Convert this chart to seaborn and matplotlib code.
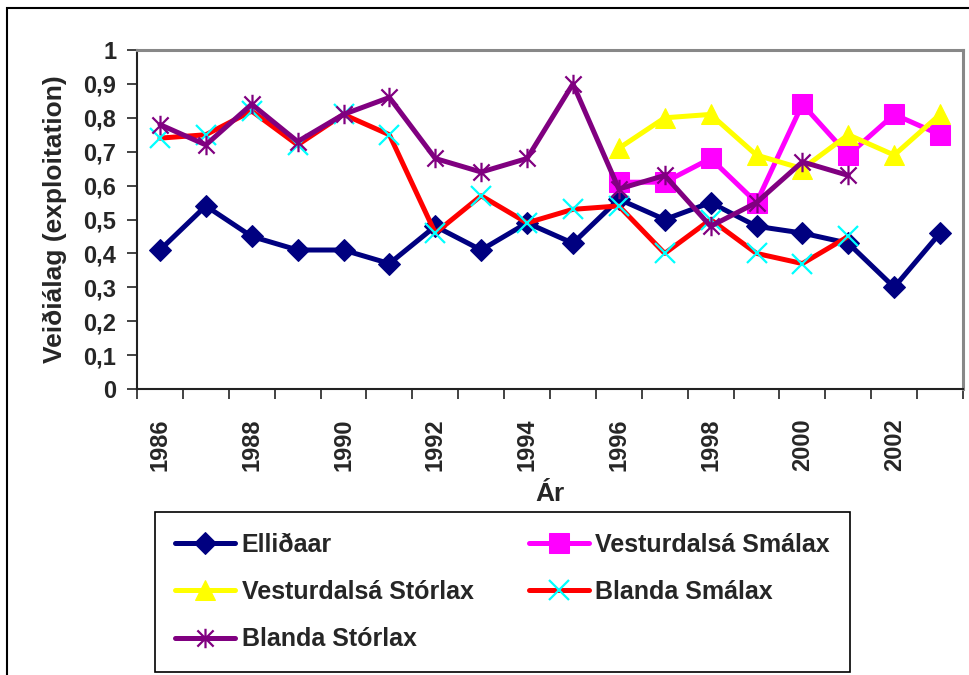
import matplotlib
matplotlib.use("Agg")
import matplotlib.pyplot as plt
from matplotlib.path import Path
from matplotlib.patches import Rectangle
from matplotlib.ticker import MultipleLocator, FixedLocator, FuncFormatter
import seaborn as sns
import pandas as pd

# Datos
ar_allt = list(range(1986, 2004))
ar_vest = list(range(1996, 2004))
ar_blanda = list(range(1986, 2002))

ellidaar = [0.41, 0.54, 0.45, 0.41, 0.41, 0.37, 0.48, 0.41, 0.49, 0.43,
            0.56, 0.50, 0.55, 0.48, 0.46, 0.43, 0.30, 0.46]
vest_smalax = [0.61, 0.61, 0.68, 0.55, 0.84, 0.69, 0.81, 0.75]
vest_storlax = [0.71, 0.80, 0.81, 0.69, 0.65, 0.75, 0.69, 0.81]
blanda_smalax = [0.74, 0.75, 0.82, 0.72, 0.81, 0.75, 0.46, 0.57, 0.49, 0.53,
                 0.54, 0.40, 0.50, 0.40, 0.37, 0.45]
blanda_storlax = [0.78, 0.72, 0.84, 0.73, 0.81, 0.86, 0.68, 0.64, 0.68, 0.90,
                  0.59, 0.63, 0.48, 0.55, 0.67, 0.63]

ytick_vals = [0, 0.1, 0.2, 0.3, 0.4, 0.5, 0.6, 0.7, 0.8, 0.9, 1.0]
xtick_ar = list(range(1986, 2003, 2))

# Stjörnumerki eins og í Excel: x + lóðrétt strik
stjarna = Path([(-1, -1), (1, 1), (-1, 1), (1, -1), (0, -1.2), (0, 1.2)],
               [Path.MOVETO, Path.LINETO, Path.MOVETO, Path.LINETO, Path.MOVETO, Path.LINETO])

rodin = [
    ("Elliðaar", ar_allt, ellidaar, dict(color="#000080", marker="D", markersize=11,
                                         markerfacecolor="#000080", markeredgecolor="#000080")),
    ("Vesturdalsá Stórlax", ar_vest, vest_storlax, dict(color="#FFFF00", marker="^", markersize=15,
                                                        markerfacecolor="#FFFF00", markeredgecolor="#FFFF00")),
    ("Blanda Stórlax", ar_blanda, blanda_storlax, dict(color="#800080", marker=stjarna, markersize=14,
                                                        markerfacecolor="none", markeredgecolor="#800080",
                                                        markeredgewidth=1.6)),
    ("Vesturdalsá Smálax", ar_vest, vest_smalax, dict(color="#FF00FF", marker="s", markersize=14,
                                                       markerfacecolor="#FF00FF", markeredgecolor="#FF00FF")),
    ("Blanda Smálax", ar_blanda, blanda_smalax, dict(color="#FF0000", marker="x", markersize=15,
                                                     markeredgecolor="#00FFFF", markeredgewidth=1.6)),
]

sns.set_style("ticks")
plt.rcParams["font.family"] = ["Liberation Sans", "DejaVu Sans"]
plt.rcParams["font.weight"] = "bold"

fig = plt.figure(figsize=(9.7, 6.75), dpi=100)
ax = fig.add_axes([137 / 970, 1 - 389 / 675, 826 / 970, 339 / 675])

# teikna í röð sem í Excel (Blanda Stórlax ofan á)
teikniröð = [0, 3, 1, 4, 2]
for i in teikniröð:
    nafn, x, y, stil = rodin[i]
    df = pd.DataFrame({"ar": x, "gildi": y})
    sns.lineplot(data=df, x="ar", y="gildi", ax=ax, label=nafn, linewidth=3.6,
                 estimator=None, sort=False, **stil)

ax.set_xlim(1985.5, 2003.5)
ax.set_ylim(0, 1)
ax.yaxis.set_major_locator(FixedLocator(ytick_vals))
ax.yaxis.set_major_formatter(FuncFormatter(lambda v, p: "0" if v == 0 else ("1" if v == 1 else f"{v:.1f}".replace(".", ","))))
ax.xaxis.set_major_locator(FixedLocator(xtick_ar))
ax.xaxis.set_major_formatter(FuncFormatter(lambda v, p: f"{int(round(v))}"))
ax.xaxis.set_minor_locator(MultipleLocator(1, offset=0.5))

ax.tick_params(axis="x", which="major", length=0, pad=21, labelsize=17, rotation=90)
ax.tick_params(axis="x", which="minor", length=7, width=1.2, color="#222222", direction="out")
ax.tick_params(axis="y", which="major", length=7, width=1.2, color="#222222", direction="out",
               labelsize=17, pad=8)
for lab in ax.get_xticklabels() + ax.get_yticklabels():
    lab.set_fontweight("bold")

for s in ["left", "bottom"]:
    ax.spines[s].set_color("#222222")
    ax.spines[s].set_linewidth(1.5)
for s in ["top", "right"]:
    ax.spines[s].set_color("#888888")
    ax.spines[s].set_linewidth(2.2)

ax.set_ylabel("Veiðiálag (exploitation)", fontsize=19, fontweight="bold")
ax.set_xlabel("Ár", fontsize=19, fontweight="bold")
ax.yaxis.set_label_coords(-0.099, 0.5)
ax.xaxis.set_label_coords(0.5, -0.31)
ax.xaxis.label.set_va("center")
ax.yaxis.label.set_va("center")

handles, labels = ax.get_legend_handles_labels()
röð = [labels.index(r[0]) for r in rodin]
ax.get_legend().remove()
leg = fig.legend([handles[k] for k in röð], [labels[k] for k in röð], ncol=2,
                 loc="upper left", mode="expand", borderaxespad=0,
                 bbox_to_anchor=(155 / 970, 1 - 670 / 675, 695 / 970, 158 / 675),
                 prop={"family": "Liberation Sans", "weight": "bold", "size": 18},
                 handlelength=2.4, handletextpad=0.25, labelspacing=0.94, borderpad=0.82,
                 fancybox=False, framealpha=1, edgecolor="black")
leg.get_frame().set_linewidth(1.2)

# ytri rammi myndarinnar
fig.patches.append(Rectangle((7 / 970, -0.05), 1.0, 1 - 8 / 675 + 0.05, transform=fig.transFigure,
                             fill=False, edgecolor="black", linewidth=1.5))

fig.savefig("out.png", dpi=100)
